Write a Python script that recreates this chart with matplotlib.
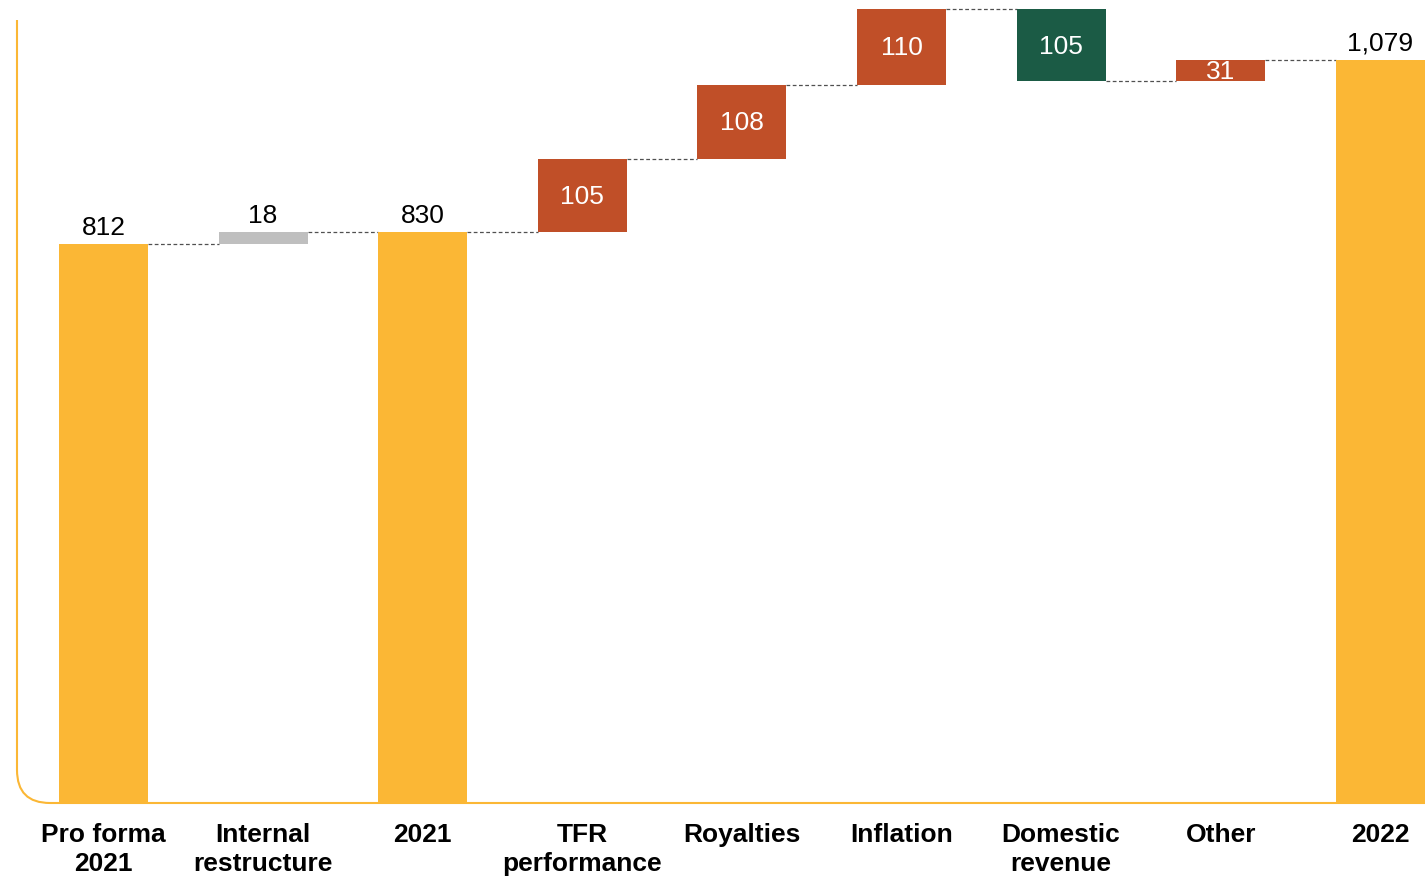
import matplotlib.pyplot as plt
from matplotlib.path import Path
from matplotlib.patches import PathPatch

plt.rcParams["font.family"] = ["Liberation Sans", "DejaVu Sans"]

categories = [
    "Pro forma\n2021", "Internal\nrestructure", "2021", "TFR\nperformance",
    "Royalties", "Inflation", "Domestic\nrevenue", "Other", "2022",
]
values = [812, 18, 830, 105, 108, 110, -105, 31, 1079]
kinds = ["total", "neutral", "total", "up", "up", "up", "down", "up", "total"]

YELLOW = "#FBB735"
colors = {"total": YELLOW, "neutral": "#BFBFBF", "up": "#C04F28", "down": "#1B5B45"}

# running totals -> bar bottoms / tops
bottoms, tops = [], []
level = 0
for v, k in zip(values, kinds):
    if k == "total":
        bottoms.append(0)
        tops.append(v)
        level = v
    else:
        lo, hi = sorted([level, level + v])
        bottoms.append(lo)
        tops.append(hi)
        level += v

W, H = 1427, 876
fig = plt.figure(figsize=(W / 100, H / 100), dpi=100)
ax = fig.add_axes([17 / W, 72 / H, (1425 - 17) / W, (H - 72) / H])

x = list(range(len(categories)))
width = 0.557
ax.bar(x, [t - b for t, b in zip(tops, bottoms)], bottom=bottoms, width=width,
       color=[colors[k] for k in kinds], zorder=3)

# dashed connectors between adjacent bars
level = 0
for i, (v, k) in enumerate(zip(values, kinds)):
    level = v if k == "total" else level + v
    if i < len(values) - 1:
        ax.plot([i + width / 2, i + 1 - width / 2], [level, level],
                ls=(0, (3, 2)), lw=0.9, color="#505050", zorder=2)

for i, (v, k) in enumerate(zip(values, kinds)):
    txt = f"{abs(v):,}"
    if k in ("total", "neutral"):
        ax.annotate(txt, (i, tops[i]), xytext=(0, 3), textcoords="offset points",
                    ha="center", va="bottom", fontsize=19, color="black")
    else:
        ax.annotate(txt, (i, (tops[i] + bottoms[i]) / 2), xytext=(0, -1),
                    textcoords="offset points", ha="center", va="center",
                    fontsize=19, color="white", zorder=4)

ax.set_xlim(-0.542, 8.28)
ax.set_ylim(0, 1166)
ax.set_xticks(x)
ax.set_xticklabels(categories, fontsize=19, fontweight="bold", linespacing=1.27)
ax.tick_params(axis="x", length=0, pad=13.5)
ax.set_yticks([])
for s in ax.spines.values():
    s.set_visible(False)

# yellow frame with rounded bottom-left corner
verts = [(17, H - 20), (17, H - 770), (17, H - 803), (50, H - 803), (1425, H - 803)]
codes = [Path.MOVETO, Path.LINETO, Path.CURVE3, Path.CURVE3, Path.LINETO]
frame = Path([(a / W, b / H) for a, b in verts], codes)
fig.patches.append(PathPatch(frame, transform=fig.transFigure, fill=False,
                             edgecolor=YELLOW, lw=1.5, zorder=1))

fig.savefig("out.png", dpi=100)
